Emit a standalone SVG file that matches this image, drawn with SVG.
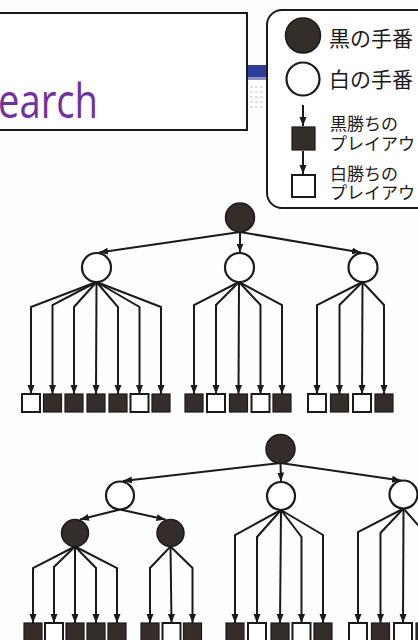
<svg xmlns="http://www.w3.org/2000/svg" width="418" height="640" viewBox="0 0 418 640">
<defs>
<marker id="ah" markerUnits="userSpaceOnUse" markerWidth="10" markerHeight="8" refX="9" refY="3.5" orient="auto">
<path d="M0,0 L9,3.5 L0,7 z" fill="#1a1a1a"/>
</marker>
<style>
.edge{fill:none;stroke:#1a1a1a;stroke-width:2;marker-end:url(#ah)}
.bn{fill:#352d2a;stroke:#1a1a1a;stroke-width:1.5}
.wn{fill:#fff;stroke:#1a1a1a;stroke-width:2.2}
.bl{fill:#352d2a;stroke:#1a1a1a;stroke-width:1.2}
.wl{fill:#fff;stroke:#1a1a1a;stroke-width:2}
.lg{font-family:"Noto Sans CJK JP","Noto Sans CJK SC",sans-serif;fill:#1a1a1a}
.dash{stroke:#b8b8c4;stroke-width:0.8;stroke-dasharray:3 2}
</style>
</defs>
<rect width="418" height="640" fill="#fefefe"/>

<g id="title">
<rect x="-10" y="13" width="257" height="117" fill="#fff" stroke="#1a1a1a" stroke-width="2"/>
<text x="-2" y="118" font-family="'Open Sans','Noto Sans',sans-serif" font-size="47" fill="#7030a0" textLength="100" lengthAdjust="spacingAndGlyphs">earch</text>
</g>

<g id="background-strip">
<rect x="248" y="65" width="18" height="14" fill="#2f3d9c"/>
<rect x="248" y="77" width="18" height="3" fill="#8a93c8"/>
<line class="dash" x1="250" y1="87" x2="265" y2="87"/>
<line class="dash" x1="250" y1="92" x2="265" y2="92"/>
<line class="dash" x1="250" y1="97" x2="265" y2="97"/>
<line class="dash" x1="250" y1="102" x2="265" y2="102"/>
<line class="dash" x1="250" y1="107" x2="265" y2="107"/>
</g>

<g id="legend">
<rect x="267" y="10" width="170" height="198" rx="15" fill="#fff" stroke="#1a1a1a" stroke-width="2"/>
<circle class="bn" cx="303" cy="35.5" r="17.5"/>
<text class="lg" x="329" y="46" font-size="21">黒の手番</text>
<circle class="wn" cx="303" cy="79" r="16.5"/>
<text class="lg" x="329" y="87" font-size="21">白の手番</text>
<line class="edge" x1="303" y1="105" x2="303" y2="126"/>
<rect class="bl" x="292" y="127" width="23" height="23"/>
<text class="lg" x="330" y="129.5" font-size="17">黒勝ちの</text>
<text class="lg" x="330" y="149.5" font-size="17">プレイアウト</text>
<line class="edge" x1="303" y1="151" x2="303" y2="174"/>
<rect class="wl" x="292" y="175" width="23" height="22"/>
<text class="lg" x="330" y="179.5" font-size="17">白勝ちの</text>
<text class="lg" x="330" y="198.5" font-size="17">プレイアウト</text>
</g>

<g id="connectors">
<path class="edge" d="M240,232 L99,252.5"/>
<path class="edge" d="M240,232 L240,252.5"/>
<path class="edge" d="M240,232 L361,252.5"/>
<path class="edge" d="M96.5,282 L31,307 L31,394"/>
<path class="edge" d="M96.5,282 L52.5,305 L52.5,394"/>
<path class="edge" d="M96.5,282 L74,307 L74,394"/>
<path class="edge" d="M96.5,282 L96,394"/>
<path class="edge" d="M96.5,282 L118,307 L118,394"/>
<path class="edge" d="M96.5,282 L139.5,307 L139.5,394"/>
<path class="edge" d="M96.5,282 L161,307 L161,394"/>
<path class="edge" d="M239,282 L194,305 L194,394"/>
<path class="edge" d="M239,282 L216,305 L216,394"/>
<path class="edge" d="M239,282 L238.5,394"/>
<path class="edge" d="M239,282 L260.5,305 L260.5,394"/>
<path class="edge" d="M239,282 L282,305 L282,394"/>
<path class="edge" d="M362.5,282 L317,305 L317,394"/>
<path class="edge" d="M362.5,282 L339.5,305 L339.5,394"/>
<path class="edge" d="M362.5,282 L362,394"/>
<path class="edge" d="M362.5,282 L384,305 L384,394"/>
<path class="edge" d="M280.5,463 L123,481"/>
<path class="edge" d="M280.5,463 L281,481.5"/>
<path class="edge" d="M280.5,463 L401,480.5"/>
<path class="edge" d="M120,509.5 L80,519.5"/>
<path class="edge" d="M120,509.5 L165.5,519.5"/>
<path class="edge" d="M75,546.5 L33,568 L33,623"/>
<path class="edge" d="M75,546.5 L54,567 L54,623"/>
<path class="edge" d="M75,546.5 L75,623"/>
<path class="edge" d="M75,546.5 L96,568 L96,623"/>
<path class="edge" d="M75,546.5 L117,568 L117,623"/>
<path class="edge" d="M170.5,546.5 L150,568 L150,623"/>
<path class="edge" d="M170.5,546.5 L171.5,623"/>
<path class="edge" d="M170.5,546.5 L192.5,568 L192.5,623"/>
<path class="edge" d="M281,510 L235,535 L235,623"/>
<path class="edge" d="M281,510 L257,537 L257,623"/>
<path class="edge" d="M281,510 L280,623"/>
<path class="edge" d="M281,510 L301.5,537 L301.5,623"/>
<path class="edge" d="M281,510 L323,535 L323,623"/>
<path class="edge" d="M403.5,508.5 L358,532 L358,623"/>
<path class="edge" d="M403.5,508.5 L380.5,533 L380.5,623"/>
<path class="edge" d="M403.5,508.5 L403,623"/>
<path class="edge" d="M403.5,508.5 L425,533 L425,623"/>
</g>

<g id="tree1-root"><circle class="bn" cx="240" cy="217.5" r="14.5"/></g>
<g id="tree1-w1"><circle class="wn" cx="96.5" cy="267.5" r="14.5"/></g>
<g id="tree1-w2"><circle class="wn" cx="239.5" cy="267.5" r="14.5"/></g>
<g id="tree1-w3"><circle class="wn" cx="363" cy="267.5" r="14.5"/></g>

<g id="tree1-leaves">
<rect class="wl" x="22" y="394" width="18" height="18"/>
<rect class="bl" x="43.5" y="394" width="18" height="18"/>
<rect class="bl" x="65" y="394" width="18" height="18"/>
<rect class="bl" x="87" y="394" width="18" height="18"/>
<rect class="bl" x="109" y="394" width="18" height="18"/>
<rect class="wl" x="130.5" y="394" width="18" height="18"/>
<rect class="bl" x="152" y="394" width="18" height="18"/>
<rect class="bl" x="185" y="394" width="18" height="18"/>
<rect class="wl" x="207" y="394" width="18" height="18"/>
<rect class="bl" x="229.5" y="394" width="18" height="18"/>
<rect class="wl" x="251.5" y="394" width="18" height="18"/>
<rect class="bl" x="273" y="394" width="18" height="18"/>
<rect class="wl" x="308" y="394" width="18" height="18"/>
<rect class="bl" x="330.5" y="394" width="18" height="18"/>
<rect class="wl" x="353" y="394" width="18" height="18"/>
<rect class="bl" x="375" y="394" width="18" height="18"/>
</g>

<g id="tree2-root"><circle class="bn" cx="280.5" cy="449" r="14.5"/></g>
<g id="tree2-w1"><circle class="wn" cx="120" cy="495.5" r="14"/></g>
<g id="tree2-w2"><circle class="wn" cx="281" cy="496" r="14"/></g>
<g id="tree2-w3"><circle class="wn" cx="403.5" cy="494.5" r="14"/></g>
<g id="tree2-b1"><circle class="bn" cx="75" cy="533" r="13.5"/></g>
<g id="tree2-b2"><circle class="bn" cx="170.5" cy="533" r="13.5"/></g>

<g id="tree2-leaves">
<rect class="bl" x="24" y="623" width="18" height="18"/>
<rect class="wl" x="45" y="623" width="18" height="18"/>
<rect class="bl" x="66" y="623" width="18" height="18"/>
<rect class="bl" x="87" y="623" width="18" height="18"/>
<rect class="bl" x="108" y="623" width="18" height="18"/>
<rect class="bl" x="141" y="623" width="18" height="18"/>
<rect class="wl" x="162.5" y="623" width="18" height="18"/>
<rect class="bl" x="183.5" y="623" width="18" height="18"/>
<rect class="bl" x="226" y="623" width="18" height="18"/>
<rect class="wl" x="248" y="623" width="18" height="18"/>
<rect class="bl" x="271" y="623" width="18" height="18"/>
<rect class="wl" x="292.5" y="623" width="18" height="18"/>
<rect class="bl" x="314" y="623" width="18" height="18"/>
<rect class="wl" x="349" y="623" width="18" height="18"/>
<rect class="bl" x="371.5" y="623" width="18" height="18"/>
<rect class="wl" x="394" y="623" width="18" height="18"/>
<rect class="bl" x="416" y="623" width="18" height="18"/>
</g>
</svg>
